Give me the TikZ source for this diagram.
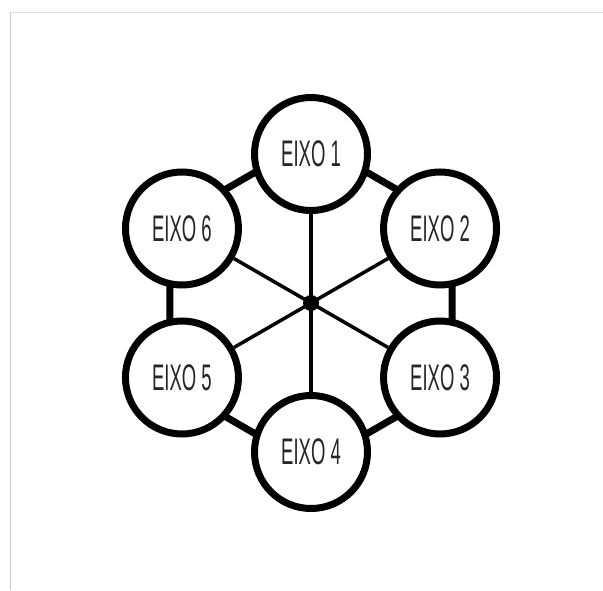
\documentclass[tikz,border=0pt]{standalone}
\usepackage{fontspec}
\usetikzlibrary{calc}
\newfontfamily\condfont[FakeStretch=0.5]{Liberation Sans}
\begin{document}
\begin{tikzpicture}[x=1pt,y=1pt,
  eixo/.style={circle,draw=black,line width=7pt,fill=white,minimum size=113pt,inner sep=0pt,
     font=\condfont\fontsize{37}{37}\selectfont,text=black!85},
  ring/.style={line width=7pt,line join=miter},
  spoke/.style={line width=3.5pt}]
\useasboundingbox (0,0) rectangle (603,590);
\fill[white] (0,0) rectangle (603,590);
% faint frame
\draw[black!12,line width=1.2pt] (10.5,577.5) -- (603,577.5);
\draw[black!20,line width=1.4pt] (10.5,0) -- (10.5,577.5);
\coordinate (O) at (311,287);
% hexagon ring
\draw[ring] ($(O)+(90:163)$) -- ($(O)+(30:163)$) -- ($(O)+(-30:163)$) -- ($(O)+(-90:163)$) -- ($(O)+(-150:163)$) -- ($(O)+(150:163)$) -- cycle;
\node[eixo] (e1) at ($(O)+(90:149)$) {EIXO 1};
\node[eixo] (e2) at ($(O)+(30:149)$) {EIXO 2};
\node[eixo] (e3) at ($(O)+(-30:149)$) {EIXO 3};
\node[eixo] (e4) at ($(O)+(-90:149)$) {EIXO 4};
\node[eixo] (e5) at ($(O)+(-150:149)$) {EIXO 5};
\node[eixo] (e6) at ($(O)+(150:149)$) {EIXO 6};
% spokes
\foreach \n in {e1,e2,e3,e4,e5,e6} \draw[spoke] (O) -- (\n);
\node[circle,fill=black,minimum size=16pt,inner sep=0pt] (hub) at (O) {};
\end{tikzpicture}
\end{document}
